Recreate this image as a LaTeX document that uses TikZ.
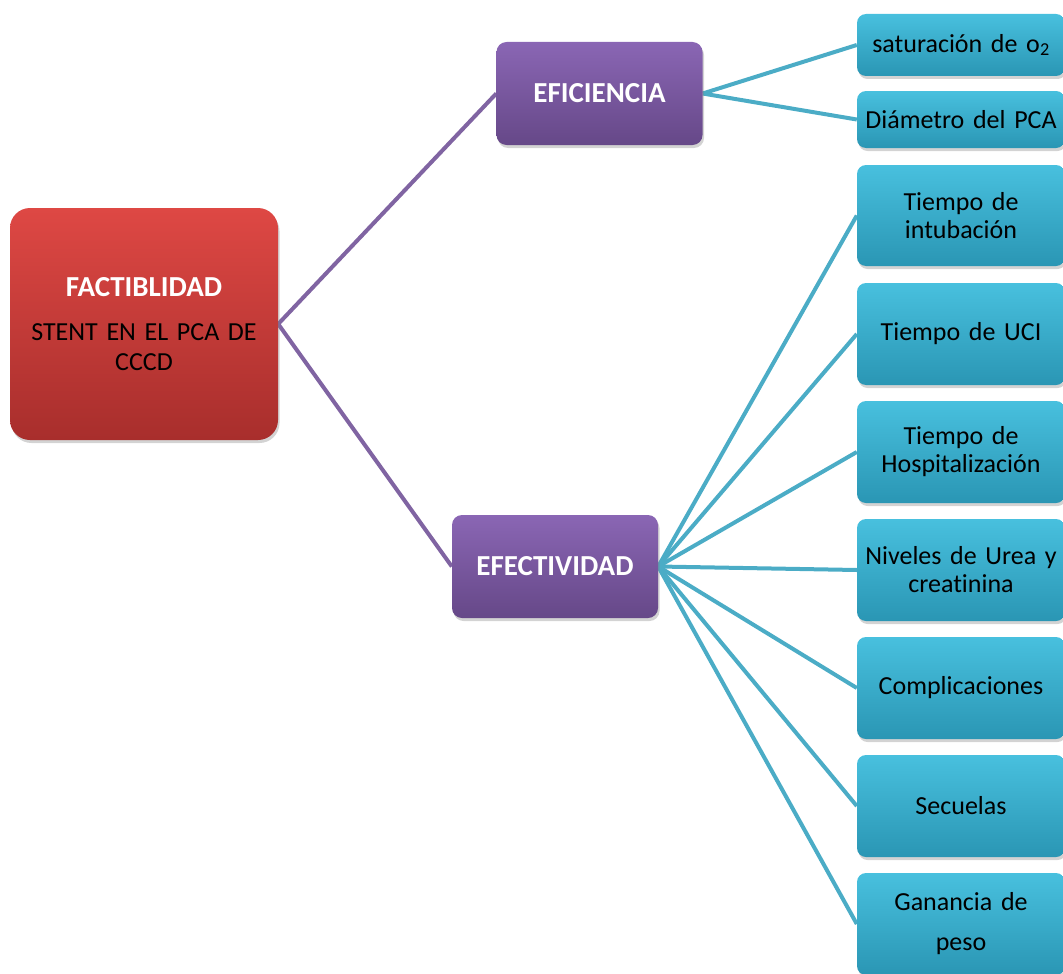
\documentclass[tikz,border=0pt]{standalone}
\usepackage{fontspec}
\setmainfont{Carlito}[WordSpace=0.85,Ligatures=NoCommon]
\usetikzlibrary{shadows,backgrounds}
\definecolor{redtop}{HTML}{DE4844}
\definecolor{redbot}{HTML}{A82E2C}
\definecolor{purtop}{HTML}{8A66B4}
\definecolor{purbot}{HTML}{664888}
\definecolor{cyantop}{HTML}{48C0DE}
\definecolor{cyanbot}{HTML}{2A96B4}
\definecolor{purline}{HTML}{8064A2}
\definecolor{cyanline}{HTML}{4BACC6}
\tikzset{
  basebox/.style={draw=none, align=center, inner sep=2pt,
    drop shadow={shadow xshift=1.5pt, shadow yshift=-3pt, opacity=0.35}},
  redbox/.style={basebox, rounded corners=20pt, top color=redtop, bottom color=redbot,
    minimum width=268pt, minimum height=232pt, text width=262pt,
    font=\fontsize{26}{30}\selectfont},
  purbox/.style={basebox, rounded corners=10pt, top color=purtop, bottom color=purbot,
    minimum width=206pt, minimum height=103pt, text=white,
    font=\fontsize{29}{30}\selectfont\bfseries},
  cybox/.style={basebox, rounded corners=9pt, top color=cyantop, bottom color=cyanbot,
    minimum width=206pt, text width=204pt, font=\fontsize{26}{28}\selectfont},
  purlink/.style={draw=purline, line width=4pt},
  cylink/.style={draw=cyanline, line width=4pt},
}
\begin{document}
\begin{tikzpicture}[x=1pt,y=-1pt]
\useasboundingbox (0,0) rectangle (1063,974);
% boxes
\node[redbox] (fact) at (144,324)
  {\textcolor{white}{\fontsize{29}{30}\selectfont\bfseries FACTIBLIDAD}\\[14pt]STENT EN EL PCA DE\\CCCD};
\node[purbox] (efic) at (599.5,93.5) {EFICIENCIA};
\node[purbox] (efec) at (555,566.5) {EFECTIVIDAD};
\node[cybox, minimum height=62pt] (sat) at (961,45) {saturación de o\textsubscript{2}};
\node[cybox, minimum height=57pt] (diam) at (961,119.5) {Diámetro del PCA};
\node[cybox, minimum height=101pt] (t1) at (961,215.5) {Tiempo de\\intubación};
\node[cybox, minimum height=102pt] (t2) at (961,334) {Tiempo de UCI};
\node[cybox, minimum height=102pt] (t3) at (961,452) {Tiempo de\\Hospitalización};
\node[cybox, minimum height=102pt] (t4) at (961,570) {Niveles de Urea y\\creatinina};
\node[cybox, minimum height=102pt] (t5) at (961,688) {Complicaciones};
\node[cybox, minimum height=102pt] (t6) at (961,806) {Secuelas};
\node[cybox, minimum height=102pt, font=\fontsize{26}{40}\selectfont] (t7) at (961,924) {Ganancia de\\peso};
% links under boxes
\begin{scope}[on background layer]
\draw[purlink] (fact.east) -- (efic.west);
\draw[purlink] (fact.east) -- (efec.west);
\foreach \n in {sat,diam}
  \draw[cylink] (efic.east) -- (\n.west);
\foreach \n in {t1,t2,t3,t4,t5,t6,t7}
  \draw[cylink] (efec.east) -- (\n.west);
\end{scope}
\end{tikzpicture}
\end{document}
